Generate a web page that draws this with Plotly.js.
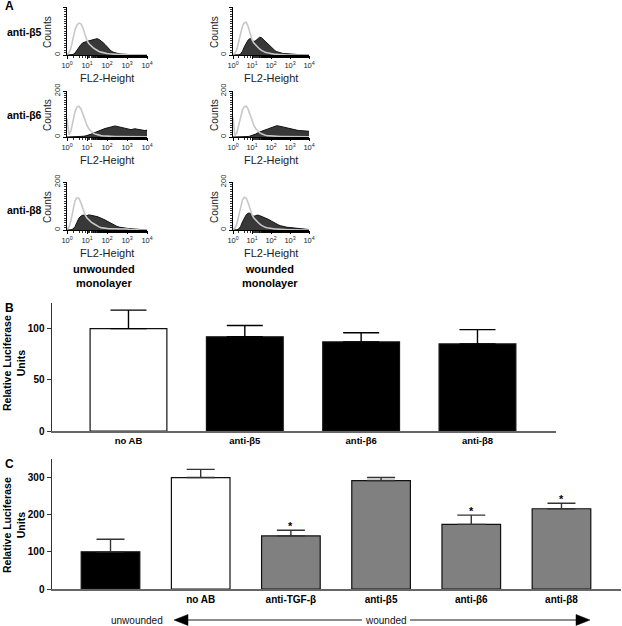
<!DOCTYPE html>
<html>
<head>
<meta charset="utf-8">
<script src="https://cdn.plot.ly/plotly-3.0.1.min.js"></script>
<style>html,body{margin:0;padding:0;background:#fff}#chart{width:622px;height:626px}</style>
</head>
<body>
<div id="chart"></div>
<script>
// ---------- Panel A: flow cytometry histograms (counts vs log10 FL2-Height) ----------
const decadePos = [0,0.1,0.2,0.3,0.4,0.5,0.6,0.7,0.8,0.9,1,1.1,1.2,1.3,1.4,1.5,1.6,1.7,1.8,1.9,2,2.1,2.2,2.3,2.4,2.5,2.6,2.7,2.8,2.9,3,3.1,3.2,3.3,3.4,3.5,3.6,3.7,3.8,3.9,4];

const b5U_stain = [0,0,0,2,8,20,34,44,51,55,57,59,62,65,67,68,65,60,52,44,34,24,17,12,9,7,5,4,3,3,2,2,1,1,1,0,0,0,0,0,0];
const b5U_iso   = [3,10,30,70,105,125,133,130,112,85,60,47,38,31,25,19,15,12,9,7,6,5,4,3,3,2,2,1,1,1,1,0,0,0,0,0,0,0,0,0,0];
const b5W_stain = [0,0,0,1,4,16,35,52,63,69,64,56,60,68,74,72,64,55,47,40,34,26,19,14,11,9,7,6,5,4,3,3,2,2,2,2,1,1,1,0,0];
const b5W_iso   = [3,8,22,55,95,122,135,136,118,90,64,50,40,32,25,19,14,11,9,7,5,4,3,3,2,2,1,1,1,0,0,0,0,0,0,0,0,0,0,0,0];
const b6U_stain = [0,0,0,0,0,0,1,2,3,4,6,9,12,16,20,24,28,31,34,37,39,42,44,47,48,46,44,41,39,36,33,31,32,34,36,34,32,30,29,28,30];
const b6U_iso   = [80,10,28,70,110,130,134,122,98,72,50,35,25,18,13,10,8,6,5,4,4,3,3,3,2,2,2,2,2,1,1,1,1,1,1,1,1,1,1,1,1];
const b6W_stain = [0,0,0,0,0,0,0,1,2,4,6,9,13,18,22,25,28,31,34,37,40,43,46,49,48,46,44,42,40,37,34,32,31,30,29,28,27,27,26,25,25];
const b6W_iso   = [85,6,18,48,88,118,132,134,120,95,70,50,36,26,19,14,10,8,6,5,4,4,3,3,2,2,2,2,1,1,1,1,1,1,1,1,1,1,1,1,1];
const b8U_stain = [0,0,1,4,14,32,50,58,62,61,60,63,62,61,59,56,53,50,46,42,37,32,27,23,19,15,12,10,9,8,7,6,5,4,3,2,1,1,0,0,0];
const b8U_iso   = [3,12,40,88,122,135,132,112,86,64,50,41,34,28,22,17,13,10,8,7,6,5,5,5,6,7,7,7,6,5,4,3,2,1,1,0,0,0,0,0,0];
const b8W_stain = [0,0,1,4,15,34,52,64,70,70,62,57,60,62,60,57,53,50,47,43,38,33,28,24,21,18,15,13,12,11,10,9,8,7,6,6,5,5,4,3,2];
const b8W_iso   = [3,8,25,60,100,126,136,132,112,86,64,50,40,32,25,19,14,11,9,7,6,5,4,4,3,3,2,2,2,1,1,1,0,0,0,0,0,0,0,0,0];

const rowLabels = ['anti-β5','anti-β6','anti-β8'];
const colLabels = ['unwounded<br>monolayer','wounded<br>monolayer'];
const histTickVals = [1,10,100,1000,10000];
const histTickText = ['10<sup>0</sup>','10<sup>1</sup>','10<sup>2</sup>','10<sup>3</sup>','10<sup>4</sup>'];

// ---------- Panel B ----------
const bCats = ['no AB','anti-β5','anti-β6','anti-β8'];
const bVals = [100,92,87,85];
const bErr  = [18,11,9,14];
const bColors = ['#ffffff','#000000','#000000','#000000'];
const bTicks = [0,50,100];

// ---------- Panel C ----------
const cCats = ['unwounded','no AB','anti-TGF-β','anti-β5','anti-β6','anti-β8'];
const cLabels = ['','no AB','anti-TGF-β','anti-β5','anti-β6','anti-β8'];
const cVals = [100,300,143,292,174,216];
const cErr  = [34,22,15,8,25,15];
const cSig  = [false,false,true,false,true,true];
const cColors = ['#000000','#ffffff','#808080','#808080','#808080','#808080'];
const cTicks = [0,100,200,300];

// ---------- layout helpers ----------
const W = 622, H = 626;
const FONT = 'Liberation Sans, Arial, Helvetica, sans-serif';
const px = x => x / W;
const py = y => 1 - y / H;

function note(x, y, text, font, extra) {
  return Object.assign({xref: 'paper', yref: 'paper', x: px(x), y: py(y), text: text,
    showarrow: false, xanchor: 'center', yanchor: 'middle', font: font}, extra || {});
}

const histCols = [[67,147],[233,309]];
const histRows = [[7,55],[91,137],[182,230]];
const histSets = [
  [b5U_stain,b5U_iso],[b5W_stain,b5W_iso],
  [b6U_stain,b6U_iso],[b6W_stain,b6W_iso],
  [b8U_stain,b8U_iso],[b8W_stain,b8W_iso]
];
const fl2 = decadePos.map(d => Math.pow(10, d));

const traces = [];
const layout = {
  width: W, height: H,
  margin: {l:0, r:0, t:0, b:0},
  paper_bgcolor: '#fff', plot_bgcolor: 'rgba(0,0,0,0)',
  showlegend: false,
  font: {family: FONT, color: '#000'},
  annotations: [], shapes: []
};

histSets.forEach((set, i) => {
  const n = i + 1;
  const row = Math.floor(i / 2), col = i % 2;
  const xa = 'x' + n, ya = 'y' + n;
  traces.push({x: fl2, y: set[0], xaxis: xa, yaxis: ya, type: 'scatter', mode: 'lines',
    fill: 'tozeroy', fillcolor: '#383838', line: {color: '#111', width: 1}, hoverinfo: 'skip'});
  traces.push({x: fl2, y: set[1], xaxis: xa, yaxis: ya, type: 'scatter', mode: 'lines',
    line: {color: '#c8c8c8', width: 1.6}, hoverinfo: 'skip'});
  const cx = histCols[col], ry = histRows[row];
  layout['xaxis' + n] = {
    domain: [px(cx[0]), px(cx[1])], anchor: ya, type: 'log', range: [0, 4],
    tickmode: 'array', tickvals: histTickVals, ticktext: histTickText,
    ticks: 'outside', ticklen: 3, tickwidth: 1, tickcolor: '#000',
    tickfont: {size: 7.5, family: FONT, color: '#222'},
    showline: true, linecolor: '#000', linewidth: 1.2, showgrid: false, zeroline: false,
    minor: {ticks: 'outside', ticklen: 1.5, tickcolor: '#000', tickwidth: 0.8, showgrid: false}
  };
  layout['yaxis' + n] = {
    domain: [py(ry[1]), py(ry[0])], anchor: xa, range: [0, 200],
    tick0: 0, dtick: 200, ticks: 'outside', ticklen: 3, tickcolor: '#000',
    tickangle: -90, tickfont: {size: 7.5, family: FONT, color: '#222'},
    showline: true, linecolor: '#000', linewidth: 1.2, showgrid: false, zeroline: false,
    minor: {tick0: 0, dtick: 10, ticks: 'outside', ticklen: 2, tickcolor: '#000', tickwidth: 0.8, showgrid: false}
  };
  layout.annotations.push(note(col === 0 ? 47 : 214, (ry[0] + ry[1]) / 2 + 1, 'Counts',
    {size: 10, family: FONT, color: '#222'}, {textangle: -90}));
  layout.annotations.push(note((cx[0] + cx[1]) / 2, ry[1] + 23, 'FL2-Height',
    {size: 11, family: FONT, color: '#222'}));
});

rowLabels.forEach((t, r) => {
  const ry = histRows[r];
  layout.annotations.push(note(5, (ry[0] + ry[1]) / 2 + (r === 2 ? 4 : 1), t,
    {size: 10.5, family: FONT, weight: 'bold'}, {xanchor: 'left'}));
});
colLabels.forEach((t, c) => {
  layout.annotations.push(note(c === 0 ? 104 : 270, 275.5, t, {size: 11, family: FONT, weight: 'bold'}));
});

// Panel letters
[['A', 3, 6], ['B', 3, 308], ['C', 3, 464]].forEach(p => {
  layout.annotations.push(note(p[1], p[2], p[0], {size: 12, family: FONT, weight: 'bold'}, {xanchor: 'left'}));
});

// ---------- Panel B bars ----------
traces.push({
  type: 'bar', x: bCats, y: bVals, xaxis: 'x7', yaxis: 'y7', width: 0.66,
  marker: {color: bColors, line: {color: '#111', width: 1.2}},
  error_y: {type: 'data', symmetric: false, array: bErr, arrayminus: bErr.map(() => 0),
    color: '#000', thickness: 1.4, width: 18},
  hoverinfo: 'skip'
});
layout.xaxis7 = {
  domain: [px(51.7), px(556)], anchor: 'y7', type: 'category', range: [-0.66, 3.675],
  showline: true, linecolor: '#666', linewidth: 2, ticks: '', showgrid: false, zeroline: false,
  tickfont: {size: 9.5, family: FONT, weight: 'bold'}
};
layout.yaxis7 = {
  domain: [py(431), py(303)], anchor: 'x7', range: [0, 125],
  tickmode: 'array', tickvals: bTicks, ticks: 'outside', ticklen: 4, tickcolor: '#333',
  showline: true, linecolor: '#333', linewidth: 1.2, showgrid: false, zeroline: false,
  tickfont: {size: 10, family: FONT, weight: 'bold'}
};
layout.annotations.push(note(14, 363, 'Relative Luciferase<br>Units',
  {size: 10.5, family: FONT, weight: 'bold'}, {textangle: -90}));

// ---------- Panel C bars ----------
traces.push({
  type: 'bar', x: cCats, y: cVals, xaxis: 'x8', yaxis: 'y8', width: 0.65,
  marker: {color: cColors, line: {color: '#111', width: 1.2}},
  error_y: {type: 'data', symmetric: false, array: cErr, arrayminus: cErr.map(() => 0),
    color: '#333', thickness: 1.4, width: 14},
  hoverinfo: 'skip'
});
layout.xaxis8 = {
  domain: [px(51.7), px(621)], anchor: 'y8', type: 'category', range: [-0.652, 5.66],
  tickmode: 'array', tickvals: cCats, ticktext: cLabels,
  showline: true, linecolor: '#666', linewidth: 2, ticks: '', showgrid: false, zeroline: false,
  tickfont: {size: 10, family: FONT, weight: 'bold'}
};
layout.yaxis8 = {
  domain: [py(589), py(459)], anchor: 'x8', range: [0, 350],
  tickmode: 'array', tickvals: cTicks, ticks: 'outside', ticklen: 4, tickcolor: '#333',
  showline: true, linecolor: '#333', linewidth: 1.2, showgrid: false, zeroline: false,
  tickfont: {size: 10, family: FONT, weight: 'bold'}
};
layout.annotations.push(note(14, 525, 'Relative Luciferase<br>Units',
  {size: 10.5, family: FONT, weight: 'bold'}, {textangle: -90}));
cCats.forEach((c, i) => {
  if (cSig[i]) {
    layout.annotations.push({xref: 'x8', yref: 'y8', x: c, y: cVals[i] + cErr[i], xanchor: 'center', yanchor: 'bottom',
      yshift: -4, text: '*', showarrow: false, font: {size: 11, family: FONT, weight: 'bold'}});
  }
});

// unwounded / wounded arrow
layout.annotations.push(note(165, 620, 'unwounded', {size: 10, family: FONT, color: '#111'}, {xanchor: 'right'}));
layout.annotations.push(note(386, 620, 'wounded', {size: 10, family: FONT, color: '#111'}));
layout.shapes.push({type: 'line', xref: 'paper', yref: 'paper', x0: px(180), x1: px(362), y0: py(620), y1: py(620),
  line: {color: '#666', width: 1.5}});
layout.shapes.push({type: 'line', xref: 'paper', yref: 'paper', x0: px(410), x1: px(584), y0: py(620), y1: py(620),
  line: {color: '#666', width: 1.5}});
layout.shapes.push({type: 'path', xref: 'paper', yref: 'paper',
  path: `M ${px(174)},${py(620)} L ${px(188)},${py(614.5)} L ${px(188)},${py(625.5)} Z`,
  fillcolor: '#000', line: {color: '#000', width: 0.5}});
layout.shapes.push({type: 'path', xref: 'paper', yref: 'paper',
  path: `M ${px(590)},${py(620)} L ${px(576)},${py(614.5)} L ${px(576)},${py(625.5)} Z`,
  fillcolor: '#000', line: {color: '#000', width: 0.5}});

Plotly.newPlot('chart', traces, layout, {staticPlot: true, displayModeBar: false});
</script>
</body>
</html>
